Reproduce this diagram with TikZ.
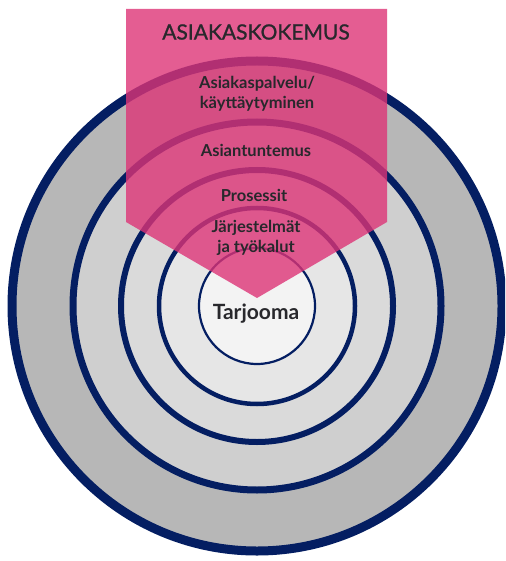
\documentclass[tikz,border=0pt]{standalone}
\usepackage{fontspec}
\setmainfont{Lato}
\definecolor{navy}{RGB}{4,30,98}
\definecolor{ringA}{RGB}{183,183,183}
\definecolor{ringB}{RGB}{207,207,207}
\definecolor{ringC}{RGB}{218,218,218}
\definecolor{ringD}{RGB}{230,230,230}
\definecolor{core}{RGB}{243,243,243}
\definecolor{banner}{RGB}{221,52,119}
\definecolor{ink}{RGB}{40,40,44}
\tikzset{
  ring/.style={draw=navy, line width=#1},
  lbl/.style={text=ink, font=\bfseries\fontsize{16.5}{20}\selectfont, align=center, inner sep=0pt},
}
\begin{document}
\begin{tikzpicture}[x=1pt, y=-1pt]
\useasboundingbox (0,0) rectangle (505,561);
\clip (0,0) rectangle (505,561);
\coordinate (c) at (257,306);
% concentric layers, outermost first
\fill[ringA] (c) circle (245);
\draw[ring=9pt] (c) circle (245);
\fill[ringB] (c) circle (184);
\draw[ring=7pt] (c) circle (184);
\fill[ringC] (c) circle (136);
\draw[ring=6pt] (c) circle (136);
\fill[ringD] (c) circle (98);
\draw[ring=4.5pt] (c) circle (98);
\fill[core] (c) circle (58);
\draw[ring=2.2pt] (c) circle (58);
% translucent customer-experience arrow
\fill[banner, fill opacity=0.8] (126,9) -- (387,9) -- (387,222) -- (257,298) -- (126,222) -- cycle;
% labels
\node[text=ink, font=\fontsize{21}{24}\selectfont\addfontfeature{FakeBold=1}, inner sep=0pt] (title) at (256,32) {ASIAKASKOKEMUS};
\node[lbl] (service) at (257,94) {Asiakaspalvelu/\\käyttäytyminen};
\node[lbl] (expert) at (256,150) {Asiantuntemus};
\node[lbl] (process) at (254,195) {Prosessit};
\node[lbl] (systems) at (256,238) {Järjestelmät\\ja työkalut};
\node[text=ink, font=\bfseries\fontsize{21}{24}\selectfont, inner sep=0pt] (offer) at (256,314) {Tarjooma};
\end{tikzpicture}
\end{document}
